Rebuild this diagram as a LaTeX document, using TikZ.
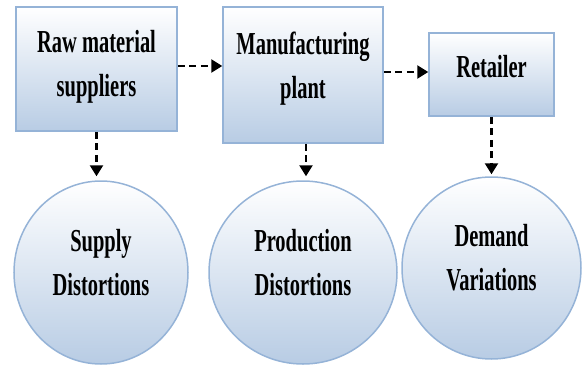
\documentclass[tikz,border=0pt]{standalone}
\usepackage{fontspec}
\newfontfamily\condbf{Liberation Serif Bold}[FakeStretch=0.64]
\usetikzlibrary{arrows.meta,shapes.geometric}
\definecolor{edgeblue}{HTML}{95B3D7}
\definecolor{fillblue}{HTML}{B8CCE4}
\tikzset{
  lbl/.style={font=\condbf\fontsize{32}{44}\selectfont, align=center, text=black, inner sep=0pt},
  boxnode/.style={rectangle, draw=edgeblue, line width=1.5pt, top color=white, bottom color=fillblue, inner sep=0pt},
  ellnode/.style={ellipse, draw=edgeblue, line width=1.5pt, top color=white, bottom color=fillblue, inner sep=0pt},
  dasharr/.style={draw=black, line width=2.3pt, dash pattern=on 7pt off 4.5pt, -{Triangle[length=11pt,width=13pt]}}
}
\begin{document}
\begin{tikzpicture}[x=1pt,y=-1pt]
\useasboundingbox (0,0) rectangle (582,365);
\node[boxnode, minimum width=161pt, minimum height=124pt] (b1) at (96.5,69) {};
\node[boxnode, minimum width=160pt, minimum height=136pt] (b2) at (303,75) {};
\node[boxnode, minimum width=125pt, minimum height=83pt] (b3) at (491.5,74.5) {};
\node[ellnode, minimum width=174pt, minimum height=183pt] (c1) at (101,272.5) {};
\node[ellnode, minimum width=188pt, minimum height=183pt] (c2) at (303,272.5) {};
\node[ellnode, minimum width=179pt, minimum height=182pt] (c3) at (491.5,268) {};
\node[lbl] (t1) at ([yshift=2pt]b1.center) {Raw material\\suppliers};
\node[lbl] (t2) at ([yshift=6pt]b2.center) {Manufacturing\\plant};
\node[lbl] (t3) at ([yshift=8pt]b3.center) {Retailer};
\node[lbl] (t4) at ([yshift=10pt]c1.center) {Supply\\Distortions};
\node[lbl] (t5) at ([yshift=10pt]c2.center) {Production\\Distortions};
\node[lbl] (t6) at ([yshift=10pt]c3.center) {Demand\\Variations};
\draw[dasharr] ([yshift=3pt]b1.east) -- ([yshift=3pt]b1.east -| b2.west);
\draw[dasharr] ([yshift=3pt]b2.east) -- ([yshift=3pt]b2.east -| b3.west);
\draw[dasharr, shorten >=4pt] (b1.south) -- (b1.south |- c1.north);
\draw[dasharr, shorten >=4pt] ([xshift=3pt]b2.south) -- ([xshift=3pt]b2.south |- c2.north);
\draw[dasharr, shorten >=2pt] (b3.south) -- (b3.south |- c3.north);
\end{tikzpicture}
\end{document}
